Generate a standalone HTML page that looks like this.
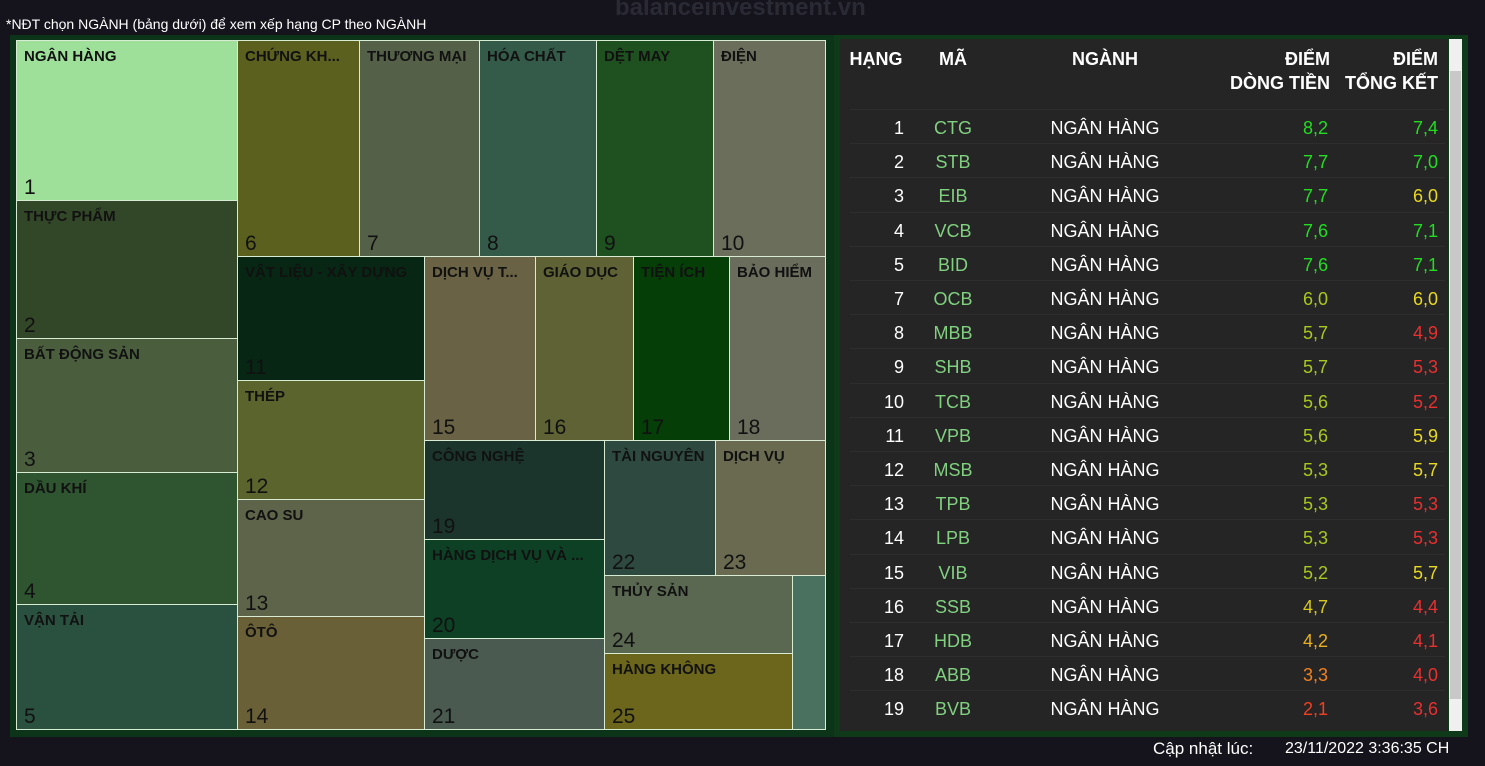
<!DOCTYPE html>
<html><head><meta charset="utf-8">
<style>
body{margin:0;width:1485px;height:766px;background:#15131c;overflow:hidden;font-family:"Liberation Sans","DejaVu Sans",sans-serif;position:relative}
.abs{position:absolute}
.cell{position:absolute;box-sizing:border-box;border:1px solid #d8ecd4;overflow:hidden}
.cell .nm{position:absolute;left:7px;top:7px;font-weight:bold;font-size:15px;color:#111;white-space:nowrap}
.cell .rk{position:absolute;left:7px;bottom:0px;font-size:21px;color:#111}
.th{position:absolute;color:#fff;font-weight:bold;font-size:18px;text-align:center;line-height:24px}
.td{position:absolute;font-size:18px;line-height:20px}
</style></head><body>
<div class="abs" style="left:615px;top:-6px;font-size:24px;font-weight:bold;color:#2a2a34">balanceinvestment.vn</div>
<div class="abs" style="left:6px;top:16px;font-size:14px;color:#fff">*NĐT chọn NGÀNH (bảng dưới) để xem xếp hạng CP theo NGÀNH</div>
<div class="abs" style="left:10px;top:35px;width:826px;height:702px;background:#0c3418"></div>
<div id="tm"></div>
<div class="abs" style="left:834px;top:35px;width:634px;height:702px;background:#0f3a1a"></div>
<div class="abs" style="left:840px;top:39px;width:608px;height:692px;background:#252525"></div>
<div class="abs" style="left:1449px;top:39px;width:13px;height:692px;background:#f0f0f0"><div style="position:absolute;left:1px;top:32px;width:11px;height:628px;background:#c8c8c8"></div></div>
<div class="th" style="left:842px;top:47px;width:68px">HẠNG</div>
<div class="th" style="left:920px;top:47px;width:66px">MÃ</div>
<div class="th" style="left:1005px;top:47px;width:200px">NGÀNH</div>
<div class="th" style="left:1200px;top:47px;width:130px;text-align:right">ĐIỂM<br>DÒNG TIỀN</div>
<div class="th" style="left:1335px;top:47px;width:103px;text-align:right">ĐIỂM<br>TỔNG KẾT</div>
<div id="rows"></div>
<div class="abs" style="left:1153px;top:739px;font-size:17px;color:#fff">Cập nhật lúc:</div>
<div class="abs" style="left:1285px;top:740px;font-size:16px;color:#fff">23/11/2022 3:36:35 CH</div>
<script>
const sectors=["NGÂN HÀNG","THỰC PHẨM","BẤT ĐỘNG SẢN","DẦU KHÍ","VẬN TẢI","CHỨNG KH...","THƯƠNG MẠI","HÓA CHẤT","DỆT MAY","ĐIỆN","VẬT LIỆU - XÂY DỰNG","THÉP","CAO SU","ÔTÔ","DỊCH VỤ T...","GIÁO DỤC","TIỆN ÍCH","BẢO HIỂM","CÔNG NGHỆ","HÀNG DỊCH VỤ VÀ ...","DƯỢC","TÀI NGUYÊN","DỊCH VỤ","THỦY SẢN","HÀNG KHÔNG",""];
const sectorRanks=[1,2,3,4,5,6,7,8,9,10,11,12,13,14,15,16,17,18,19,20,21,22,23,24,25,""];
const colors=["#9ee09a","#324628","#4a5e3e","#2e5530","#2a5040","#5b601e","#556048","#345a4a","#1e5020","#6a6e5a","#072614","#5a642c","#5e644a","#6a6038","#6a6244","#5e6234","#063e08","#6a6c5c","#1b352d","#0d4024","#4a5a50","#2e4a40","#6a6a50","#5a6852","#6c661c","#4a7060"];
const layout=[[16,40,237,200],[16,200,237,338],[16,338,237,472],[16,472,237,604],[16,604,237,729],[237,40,359,256],[359,40,479,256],[479,40,596,256],[596,40,713,256],[713,40,825,256],[237,256,424,380],[237,380,424,499],[237,499,424,616],[237,616,424,729],[424,256,535,440],[535,256,633,440],[633,256,729,440],[729,256,825,440],[424,440,604,539],[424,539,604,638],[424,638,604,729],[604,440,715,575],[715,440,825,575],[604,575,792,653],[604,653,792,729],[792,575,825,729]];
const tm=document.getElementById('tm');
sectors.forEach((s,i)=>{const L=layout[i];const d=document.createElement('div');d.className='cell';


d.style.cssText=`left:${L[0]}px;top:${L[1]}px;width:${L[2]-L[0]+1}px;height:${L[3]-L[1]+1}px;background:${colors[i]}`;
d.innerHTML=`<div class="nm">${s}</div><div class="rk">${sectorRanks[i]}</div>`;tm.appendChild(d);});
const ranks=[1,2,3,4,5,7,8,9,10,11,12,13,14,15,16,17,18,19];
const tickers=["CTG","STB","EIB","VCB","BID","OCB","MBB","SHB","TCB","VPB","MSB","TPB","LPB","VIB","SSB","HDB","ABB","BVB"];
const cashScores=[8.2,7.7,7.7,7.6,7.6,6.0,5.7,5.7,5.6,5.6,5.3,5.3,5.3,5.2,4.7,4.2,3.3,2.1];
const totalScores=[7.4,7.0,6.0,7.1,7.1,6.0,4.9,5.3,5.2,5.9,5.7,5.3,5.3,5.7,4.4,4.1,4.0,3.6];
function cColor(v){return v>=7?"#22dd22":v>=5?"#a8c81e":v>=4.5?"#d8c81e":v>=4?"#e8b020":v>=3?"#f08020":"#f04020";}
function tColor(v){return v>=6.5?"#22dd22":v>=5.5?"#e8d820":"#e83030";}
const rows=document.getElementById('rows');
const fmt=v=>v.toFixed(1).replace('.',',');
ranks.forEach((r,i)=>{const y=118+i*34.2;
const line=document.createElement('div');line.className='abs';


line.style.cssText=`left:850px;top:${y-9}px;width:595px;height:1px;background:#2e2e2e`;rows.appendChild(line);
const cells=[[r,842,62,'right','#fff'],[tickers[i],920,66,'center','#80d080'],["NGÂN HÀNG",1005,200,'center','#fff'],[fmt(cashScores[i]),1210,118,'right',cColor(cashScores[i])],[fmt(totalScores[i]),1340,98,'right',tColor(totalScores[i])]];
const names=['rank-cell','ticker-cell','sector-cell','cashflow-score-cell','total-score-cell'];
cells.forEach((c,j)=>{const d=document.createElement('div');d.className='td';


d.style.cssText=`left:${c[1]}px;top:${y}px;width:${c[2]}px;text-align:${c[3]};color:${c[4]}`;d.textContent=c[0];rows.appendChild(d);});
});
</script>
</body></html>
